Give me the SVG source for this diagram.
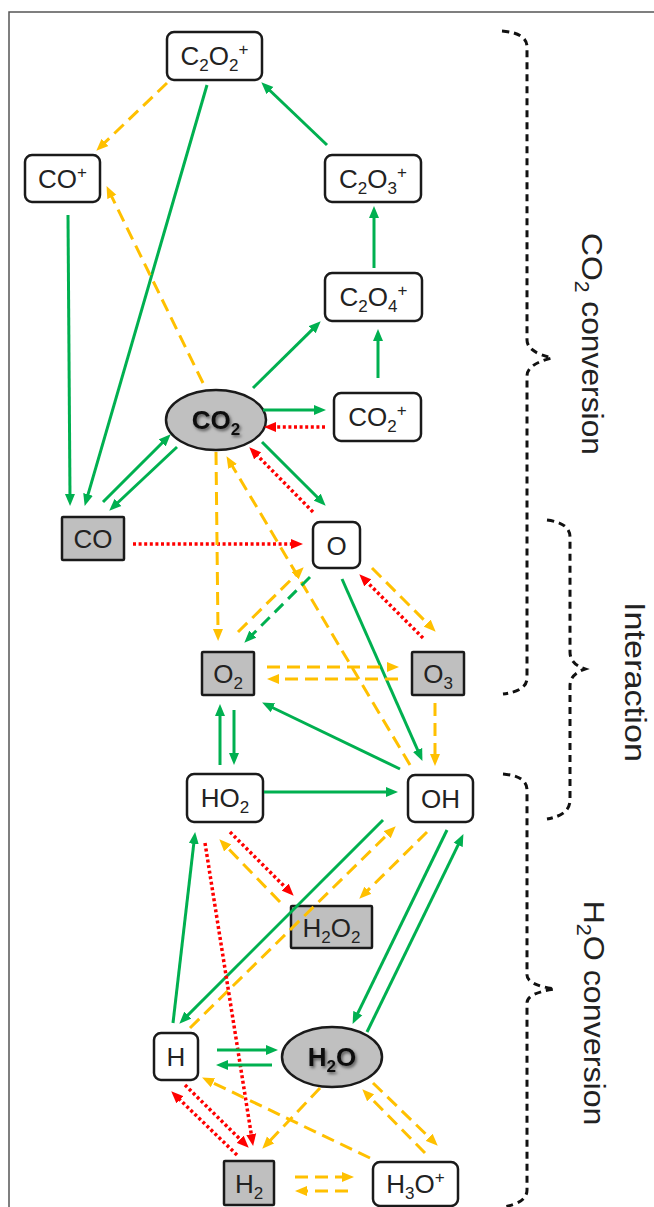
<svg xmlns="http://www.w3.org/2000/svg" width="654" height="1207" viewBox="0 0 654 1207">
<style>
.bw{fill:#fff;stroke:#1a1a1a;stroke-width:2.5}
.bg{fill:#bfbfbf;stroke:#1a1a1a;stroke-width:2.5}
.t{font-family:"Liberation Sans",Arial,sans-serif;font-size:26px;fill:#222;text-anchor:middle}
.tb{font-family:"Liberation Sans",Arial,sans-serif;font-size:26px;font-weight:bold;fill:#111;text-anchor:middle}
.s{font-size:17px}
.lab{font-family:"Liberation Sans",Arial,sans-serif;font-size:30px;fill:#222;text-anchor:middle}
.ls{font-size:20px}
.g{fill:none;stroke:#00b050;stroke-width:3;marker-end:url(#ag)}
.gd{fill:none;stroke:#00b050;stroke-width:3;stroke-dasharray:12 7;marker-end:url(#ag)}
.o{fill:none;stroke:#ffc000;stroke-width:3;stroke-dasharray:13 7;marker-end:url(#ao)}
.r{fill:none;stroke:#ff0000;stroke-width:3.5;stroke-dasharray:3 2.6;marker-end:url(#ar)}
.br{fill:none;stroke:#111;stroke-width:3;stroke-dasharray:7 5}
</style>
<defs>
<marker id="ag" markerWidth="12" markerHeight="11" refX="3" refY="5.5" orient="auto" markerUnits="userSpaceOnUse"><path d="M0,0.5 L12,5.5 L0,10.5 z" fill="#00b050"/></marker>
<marker id="ao" markerWidth="12" markerHeight="11" refX="3" refY="5.5" orient="auto" markerUnits="userSpaceOnUse"><path d="M0,0.5 L12,5.5 L0,10.5 z" fill="#ffc000"/></marker>
<marker id="ar" markerWidth="12" markerHeight="11" refX="3" refY="5.5" orient="auto" markerUnits="userSpaceOnUse"><path d="M0,0.5 L12,5.5 L0,10.5 z" fill="#ff0000"/></marker>
<filter id="sh" x="-20%" y="-30%" width="140%" height="160%"><feDropShadow dx="1.5" dy="2" stdDeviation="1.5" flood-color="#000" flood-opacity="0.55"/></filter>
</defs>
<rect width="654" height="1207" fill="#fff"/>
<path d="M9,1207 L9,12 L654,12" fill="none" stroke="#555" stroke-width="1.5"/>

<g id="brace-co2"><path class="br" d="M502,31 Q527,33 527,47 L527,340 Q527,352 552,358 Q527,364 527,376 L527,678 Q527,691 503,694"/>
<text class="lab" transform="translate(582,344) rotate(90)" textLength="222" lengthAdjust="spacingAndGlyphs">CO<tspan class="ls" dy="7">2</tspan><tspan dy="-7"> conversion</tspan></text></g>
<g id="brace-interaction"><path class="br" d="M547,520 Q570,523 570,537 L570,652 Q570,664 585,669 Q570,674 570,686 L570,800 Q570,815 547,819"/>
<text class="lab" transform="translate(625,682) rotate(90)" textLength="160" lengthAdjust="spacingAndGlyphs">Interaction</text></g>
<g id="brace-h2o"><path class="br" d="M503,774 Q527,776 527,790 L527,975 Q527,985 555,989 Q527,993 527,1003 L527,1190 Q527,1203 503,1207"/>
<text class="lab" transform="translate(584,1013) rotate(90)" textLength="225" lengthAdjust="spacingAndGlyphs">H<tspan class="ls" dy="7">2</tspan><tspan dy="-7">O conversion</tspan></text></g>

<g id="n-C2O2p"><rect class="bw" x="167" y="32" width="95" height="48" rx="7"/><text class="t" x="214.5" y="65">C<tspan class="s" dy="6">2</tspan><tspan dy="-6">O</tspan><tspan class="s" dy="6">2</tspan><tspan class="s" dy="-16">+</tspan></text></g>
<g id="n-COp"><rect class="bw" x="25" y="155" width="75" height="47" rx="7"/><text class="t" x="62.5" y="188">CO<tspan class="s" dy="-10">+</tspan></text></g>
<g id="n-C2O3p"><rect class="bw" x="325" y="155" width="96" height="47" rx="7"/><text class="t" x="373" y="188">C<tspan class="s" dy="6">2</tspan><tspan dy="-6">O</tspan><tspan class="s" dy="6">3</tspan><tspan class="s" dy="-16">+</tspan></text></g>
<g id="n-C2O4p"><rect class="bw" x="325" y="273" width="97" height="48" rx="7"/><text class="t" x="373.5" y="306">C<tspan class="s" dy="6">2</tspan><tspan dy="-6">O</tspan><tspan class="s" dy="6">4</tspan><tspan class="s" dy="-16">+</tspan></text></g>
<g id="n-CO2p"><rect class="bw" x="334" y="393" width="87" height="48" rx="7"/><text class="t" x="377.5" y="426">CO<tspan class="s" dy="6">2</tspan><tspan class="s" dy="-16">+</tspan></text></g>
<g id="n-CO2"><ellipse cx="216" cy="420" rx="50" ry="30" fill="#c0c0c0" stroke="#1a1a1a" stroke-width="2.5"/><text class="tb" x="216" y="429" filter="url(#sh)">CO<tspan class="s" dy="6">2</tspan></text></g>
<g id="n-CO"><rect class="bg" x="62" y="517" width="62" height="43" rx="1"/><text class="t" x="93" y="548">CO</text></g>
<g id="n-O"><rect class="bw" x="313" y="522" width="47" height="46" rx="7"/><text class="t" x="336.5" y="554.5">O</text></g>
<g id="n-O2"><rect class="bg" x="202" y="652" width="52" height="43" rx="1"/><text class="t" x="228" y="683">O<tspan class="s" dy="6">2</tspan></text></g>
<g id="n-O3"><rect class="bg" x="412" y="652" width="52" height="43" rx="1"/><text class="t" x="438" y="683">O<tspan class="s" dy="6">3</tspan></text></g>
<g id="n-HO2"><rect class="bw" x="187" y="774" width="76" height="48" rx="7"/><text class="t" x="225" y="807">HO<tspan class="s" dy="6">2</tspan></text></g>
<g id="n-OH"><rect class="bw" x="408" y="775" width="65" height="47" rx="7"/><text class="t" x="440.5" y="808">OH</text></g>
<g id="n-H2O2"><rect class="bg" x="291" y="906" width="81" height="42" rx="1"/><text class="t" x="331.5" y="936.5">H<tspan class="s" dy="6">2</tspan><tspan dy="-6">O</tspan><tspan class="s" dy="6">2</tspan></text></g>
<g id="n-H"><rect class="bw" x="154" y="1033" width="44" height="47" rx="7"/><text class="t" x="176" y="1066">H</text></g>
<g id="n-H2O"><ellipse cx="332" cy="1057" rx="50" ry="30" fill="#c0c0c0" stroke="#1a1a1a" stroke-width="2.5"/><text class="tb" x="332" y="1066" filter="url(#sh)">H<tspan class="s" dy="6">2</tspan><tspan dy="-6">O</tspan></text></g>
<g id="n-H2"><rect class="bg" x="224" y="1161" width="50" height="44" rx="1"/><text class="t" x="249" y="1192.5">H<tspan class="s" dy="6">2</tspan></text></g>
<g id="n-H3Op"><rect class="bw" x="373" y="1162" width="85" height="44" rx="7"/><text class="t" x="415.5" y="1193">H<tspan class="s" dy="6">3</tspan><tspan dy="-6">O</tspan><tspan class="s" dy="-10">+</tspan></text></g>

<g id="connectors">
<path class="o" d="M167,83 L102.8,144.5"/>
<path class="g" d="M207,85 L87.2,497.3"/>
<path class="g" d="M327,145 L267.8,88.5"/>
<path class="g" d="M374,268 L374,215"/>
<path class="o" d="M203,383 L110.5,194.2"/>
<path class="g" d="M68,215 L70,497"/>
<path class="g" d="M253,388 L314.3,327.6"/>
<path class="g" d="M378,378 L378,338"/>
<path class="g" d="M263,410 L317,410"/>
<path class="r" d="M325,427 L273,427"/>
<path class="g" d="M262,442 L319.3,499.3"/>
<path class="r" d="M313,512 L255.6,453.7"/>
<path class="g" d="M103,502 L164.3,440.7"/>
<path class="g" d="M177,447 L115.8,504.5"/>
<path class="r" d="M133,544 L294,544"/>
<path class="o" d="M216,452 L218,632"/>
<path class="o" d="M410,765 L231.1,463.9"/>
<path class="o" d="M238,632 L297.3,573.6"/>
<path class="gd" d="M310,577 L250.7,636.3"/>
<path class="g" d="M342,579 L418.8,752.7"/>
<path class="r" d="M423,638 L365.7,580.7"/>
<path class="o" d="M372,568 L429.3,625.3"/>
<path class="o" d="M267,667 L390,667"/>
<path class="o" d="M398,679 L276,679"/>
<path class="o" d="M435,703 L435,757"/>
<path class="g" d="M400,769 L270.2,706.5"/>
<path class="g" d="M220,765 L220,713"/>
<path class="g" d="M234,710 L234,756"/>
<path class="g" d="M264,792 L389,792"/>
<path class="g" d="M383,820 L185.7,1017.3"/>
<path class="o" d="M190,1028 L389.3,832.6"/>
<path class="o" d="M427,832 L365.7,892.4"/>
<path class="g" d="M447,830 L356.5,1015.8"/>
<path class="g" d="M367,1032 L459.5,842.2"/>
<path class="r" d="M230,832 L287.3,889.3"/>
<path class="o" d="M280,902 L225.6,845.8"/>
<path class="r" d="M205,843 L251.7,1137.1"/>
<path class="g" d="M173,1023 L194.1,840.9"/>
<path class="g" d="M217,1050 L269,1050"/>
<path class="g" d="M272,1065 L225,1065"/>
<path class="r" d="M185,1085 L242.3,1141.4"/>
<path class="r" d="M237,1155 L177.7,1097.6"/>
<path class="o" d="M370,1158 L210.2,1081.5"/>
<path class="o" d="M320,1088 L268.5,1142.2"/>
<path class="o" d="M425,1153 L368.6,1095.7"/>
<path class="o" d="M373,1083 L431.3,1139.4"/>
<path class="o" d="M295,1177 L345,1177"/>
<path class="o" d="M348,1191 L304,1191"/>
</g>
</svg>
